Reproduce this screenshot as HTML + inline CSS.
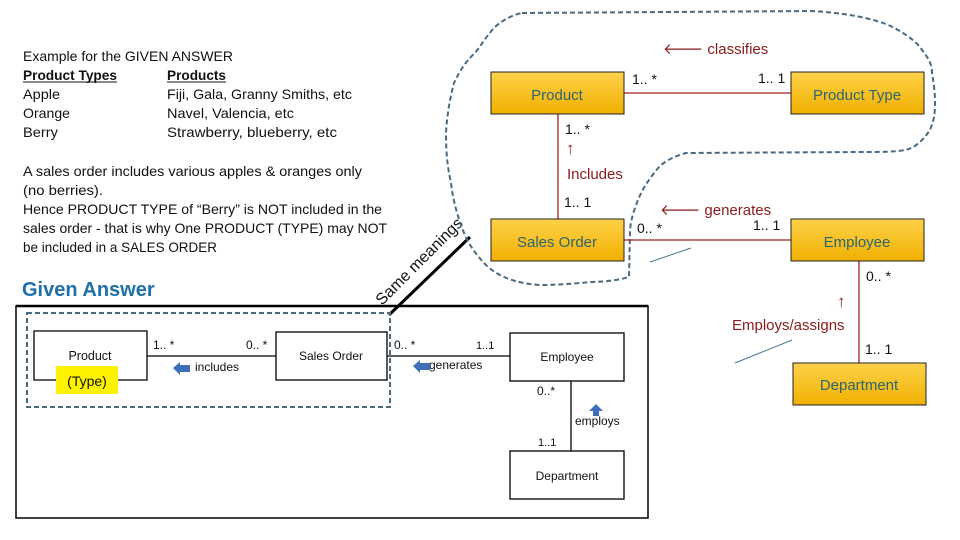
<!DOCTYPE html>
<html><head><meta charset="utf-8"><style>
html,body{margin:0;padding:0;background:#fff;}
svg{display:block;}
text{font-family:"Liberation Sans",sans-serif;}
</style></head><body>
<svg width="960" height="540" viewBox="0 0 960 540" xmlns="http://www.w3.org/2000/svg">
<defs>
<linearGradient id="g" x1="0" y1="0" x2="0" y2="1">
<stop offset="0" stop-color="#ffd24a"/><stop offset="1" stop-color="#f0b000"/>
</linearGradient>
</defs>
<!-- left text -->
<g font-size="14" fill="#111" lengthAdjust="spacingAndGlyphs">
<text x="23" y="61" textLength="210" lengthAdjust="spacingAndGlyphs">Example for the GIVEN ANSWER</text>
<text x="23" y="80" font-weight="bold" textLength="94" lengthAdjust="spacingAndGlyphs">Product Types</text>
<line x1="23" y1="82" x2="117" y2="82" stroke="#111" stroke-width="1"/>
<text x="167" y="80" font-weight="bold" textLength="59" lengthAdjust="spacingAndGlyphs">Products</text>
<line x1="167" y1="82" x2="226" y2="82" stroke="#111" stroke-width="1"/>
<text x="23" y="99" textLength="37" lengthAdjust="spacingAndGlyphs">Apple</text><text x="167" y="99" textLength="185" lengthAdjust="spacingAndGlyphs">Fiji, Gala, Granny Smiths, etc</text>
<text x="23" y="118" textLength="47" lengthAdjust="spacingAndGlyphs">Orange</text><text x="167" y="118" textLength="127" lengthAdjust="spacingAndGlyphs">Navel, Valencia, etc</text>
<text x="23" y="137" textLength="35" lengthAdjust="spacingAndGlyphs">Berry</text><text x="167" y="137" textLength="170" lengthAdjust="spacingAndGlyphs">Strawberry, blueberry, etc</text>
<text x="23" y="176" textLength="339" lengthAdjust="spacingAndGlyphs">A sales order includes various apples &amp; oranges only</text>
<text x="23" y="195" textLength="80" lengthAdjust="spacingAndGlyphs">(no berries).</text>
<text x="23" y="214" textLength="359" lengthAdjust="spacingAndGlyphs">Hence PRODUCT TYPE of “Berry” is NOT included in the</text>
<text x="23" y="233" textLength="364" lengthAdjust="spacingAndGlyphs">sales order  - that is why One PRODUCT (TYPE) may NOT</text>
<text x="23" y="252" textLength="194" lengthAdjust="spacingAndGlyphs">be included in a SALES ORDER</text>
</g>
<text x="22" y="296" font-size="20" font-weight="bold" fill="#1f6fa8">Given Answer</text>

<!-- Same meanings -->
<line x1="389" y1="315" x2="470" y2="237" stroke="#000" stroke-width="3"/>
<text x="0" y="0" font-size="16" fill="#111" transform="translate(382,306) rotate(-45)">Same meanings</text>

<!-- dashed blob -->
<path d="M522,13 L812,11 C860,14 885,22 898,30 C912,38 920,46 922,50 C930,60 932,66 932,73 C935,90 936,105 934,117 C932,128 928,134 922,140 C915,147 910,149 905,150 C895,152 880,152 860,152 L686,153 C672,157 664,162 659,167 C648,180 642,190 638,200 C632,215 630,225 630,233 L629,277 C615,281 600,282 591,282 C570,284 555,285 539,285 C515,283 500,277 488,267 C478,257 470,247 464,233 C457,215 453,200 451,183 C447,165 446,150 446,133 C447,115 450,98 454,83 C460,70 467,60 475,53 C482,44 488,34 495,27 C503,20 512,15 522,13 Z" fill="none" stroke="#4a6a80" stroke-width="2" stroke-dasharray="5,3"/>

<!-- top diagram lines -->
<g stroke="#a02020" stroke-width="1.3">
<line x1="624" y1="93" x2="791" y2="93"/>
<line x1="558" y1="114" x2="558" y2="219"/>
<line x1="624" y1="240" x2="791" y2="240"/>
<line x1="859" y1="261" x2="859" y2="363"/>
</g>
<g stroke="#4a7890" stroke-width="1">
<line x1="650" y1="262" x2="691" y2="248"/>
<line x1="735" y1="363" x2="792" y2="340"/>
</g>
<!-- boxes -->
<g stroke="#222" stroke-width="1">
<rect x="491" y="72" width="133" height="42" fill="url(#g)"/>
<rect x="791" y="72" width="133" height="42" fill="url(#g)"/>
<rect x="491" y="219" width="133" height="42" fill="url(#g)"/>
<rect x="791" y="219" width="133" height="42" fill="url(#g)"/>
<rect x="793" y="363" width="133" height="42" fill="url(#g)"/>
</g>
<g font-size="15" fill="#2c6470" text-anchor="middle">
<text x="557" y="100">Product</text>
<text x="857" y="100">Product Type</text>
<text x="557" y="247">Sales Order</text>
<text x="857" y="247">Employee</text>
<text x="859" y="390">Department</text>
</g>
<g font-size="14" fill="#111">
<text x="632" y="84">1.. *</text>
<text x="758" y="83">1.. 1</text>
<text x="565" y="134">1.. *</text>
<text x="564" y="207">1.. 1</text>
<text x="637" y="233">0.. *</text>
<text x="753" y="230">1.. 1</text>
<text x="866" y="281">0.. *</text>
<text x="865" y="354">1.. 1</text>
</g>
<g font-size="15" fill="#8b1a1a">
<text x="663" y="54">🡐 classifies</text>
<text x="566" y="154" font-size="17">↑</text>
<text x="567" y="179">Includes</text>
<text x="660" y="215">🡐 generates</text>
<text x="837" y="307" font-size="17">↑</text>
<text x="732" y="330">Employs/assigns</text>
</g>

<!-- lower given answer box -->
<rect x="16" y="306" width="632" height="212" fill="none" stroke="#000" stroke-width="1.5"/>
<line x1="16" y1="306" x2="648" y2="306" stroke="#000" stroke-width="2.5"/>
<rect x="27" y="313" width="363" height="94" fill="none" stroke="#4a6a80" stroke-width="2" stroke-dasharray="5,3"/>
<g stroke="#000" stroke-width="1.3" fill="none">
<polyline points="56,380 34,380 34,331 147,331 147,380 118,380"/>
<rect x="276" y="332" width="111" height="48"/>
<rect x="510" y="333" width="114" height="48"/>
<rect x="510" y="451" width="114" height="48"/>
<line x1="147" y1="356" x2="276" y2="356"/>
<line x1="387" y1="356" x2="510" y2="356"/>
<line x1="571" y1="381" x2="571" y2="451"/>
</g>
<rect x="56" y="366" width="62" height="28" fill="#fff200"/>
<g font-size="12" fill="#111">
<text x="90" y="360" text-anchor="middle" font-size="12.5">Product</text>
<text x="87" y="386" text-anchor="middle" font-size="14">(Type)</text>
<text x="331" y="360" text-anchor="middle">Sales Order</text>
<text x="567" y="361" text-anchor="middle">Employee</text>
<text x="567" y="480" text-anchor="middle">Department</text>
<text x="153" y="349">1.. *</text>
<text x="246" y="349">0.. *</text>
<text x="394" y="349">0.. *</text>
<text x="476" y="349" font-size="11">1..1</text>
<text x="195" y="371">includes</text>
<text x="429" y="369">generates</text>
<text x="537" y="395">0..*</text>
<text x="538" y="446" font-size="11">1..1</text>
<text x="575" y="425">employs</text>
</g>
<g fill="#3f6fb8">
<path d="M173,368 L180,362 L180,365 L190,365 L190,372 L180,372 L180,375 Z"/>
<path d="M413,366 L420,360 L420,363 L430,363 L430,370 L420,370 L420,373 Z"/>
<path d="M596,404 L603,411 L599,411 L599,416 L593,416 L593,411 L589,411 Z"/>
</g>
</svg>
</body></html>
